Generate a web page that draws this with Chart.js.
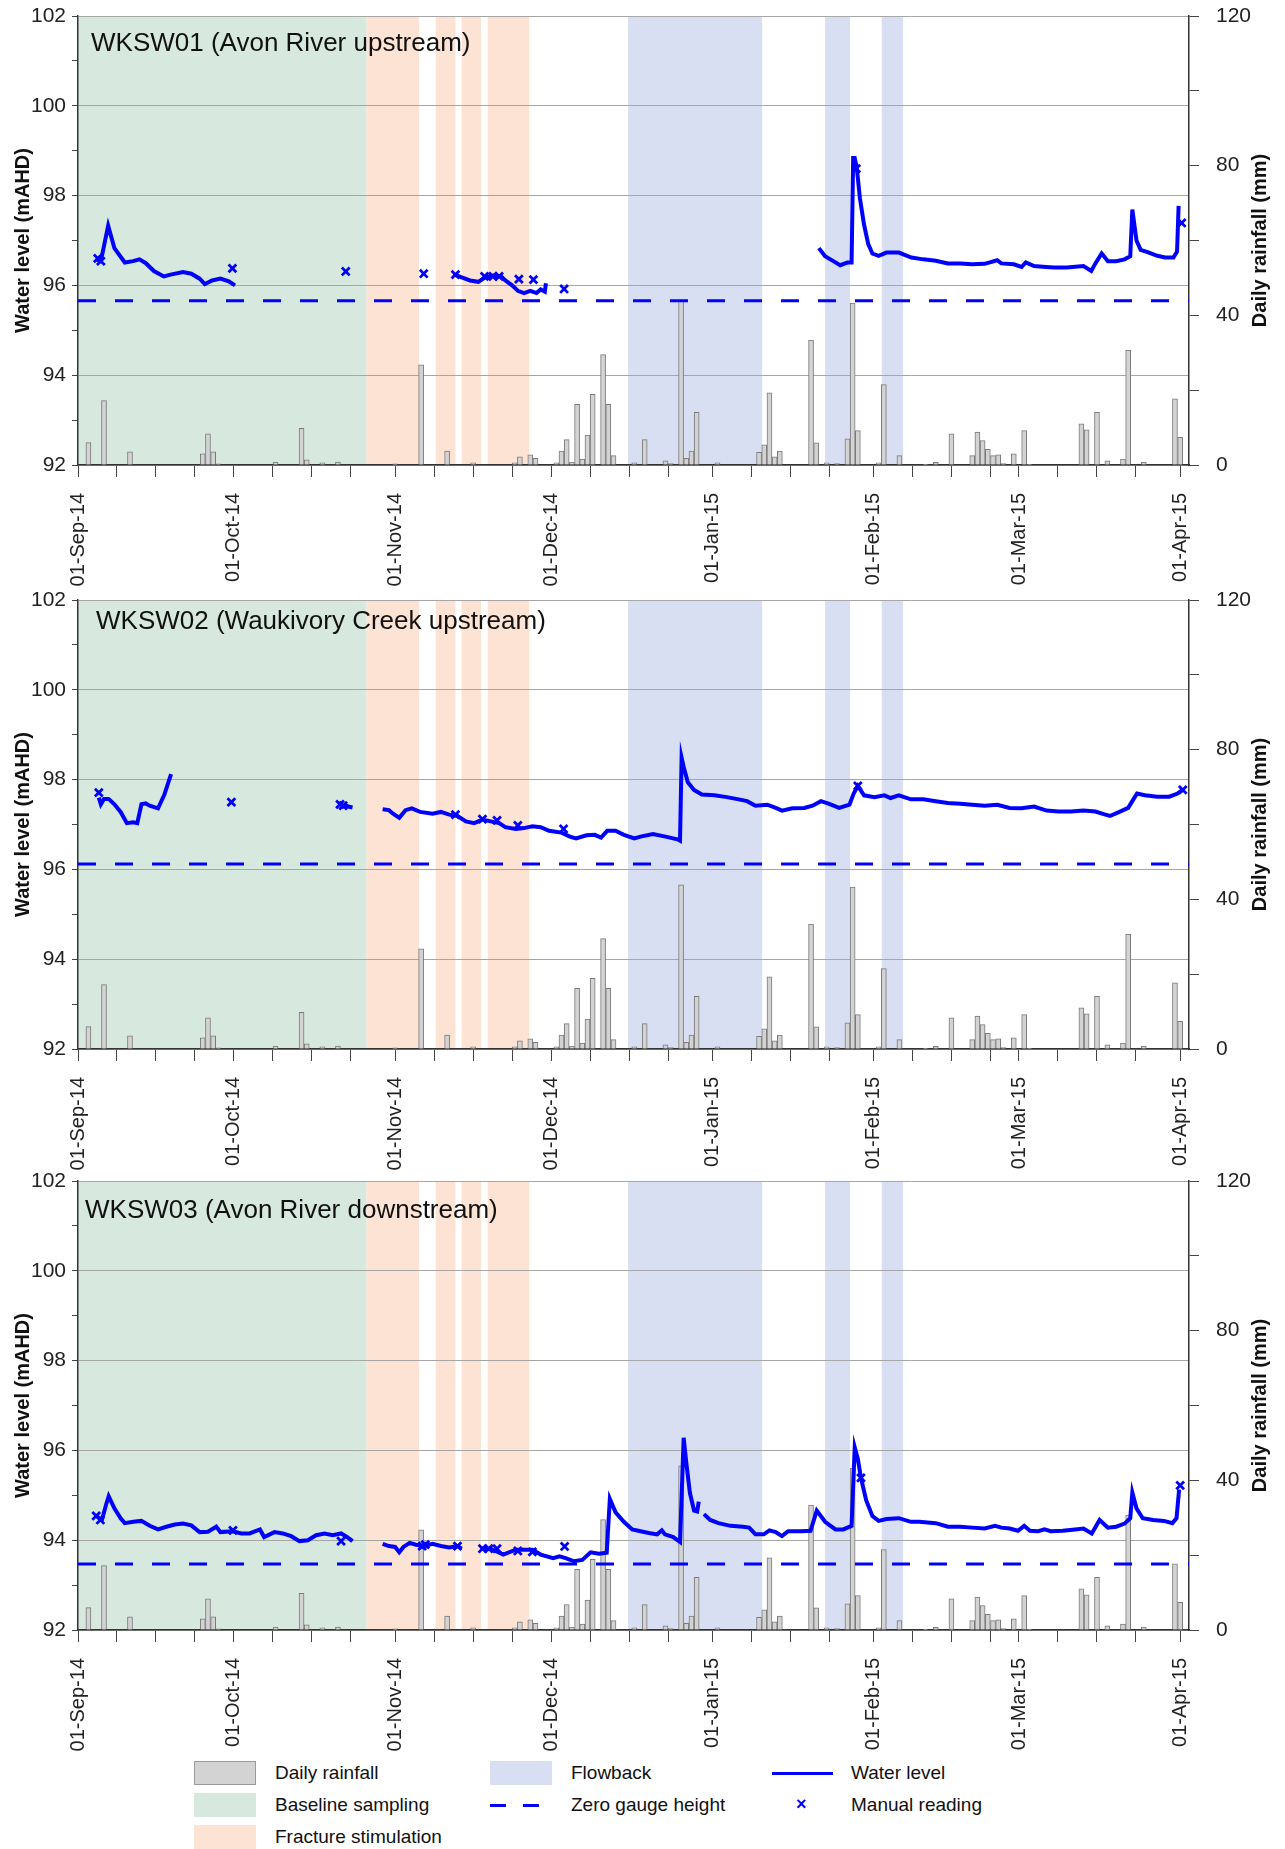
<!DOCTYPE html>
<html>
<head>
<meta charset="utf-8">
<script src="https://cdn.jsdelivr.net/npm/chart.js@4.4.0/dist/chart.umd.min.js"></script>
<style>
body { margin: 0; background: #fff; font-family: "Liberation Sans", Arial, sans-serif; }
#wrap { position: relative; width: 1285px; height: 1849px; overflow: hidden; }
canvas { position: absolute; left: 0; }
.lg { position: absolute; font-size: 19px; color: #111; line-height: 24px; white-space: nowrap; }
.sw { position: absolute; width: 62px; height: 24px; box-sizing: border-box; }
.dash { position: absolute; height: 3px; background: #0000ff; }
</style>
</head>
<body>
<div id="wrap">
  <canvas id="c1" width="1285" height="590" style="top:0px"></canvas>
  <canvas id="c2" width="1285" height="590" style="top:584px"></canvas>
  <canvas id="c3" width="1285" height="590" style="top:1165px"></canvas>

  <div class="sw" style="left:194px;top:1761px;background:#d3d3d3;border:1px solid #9a9a9a"></div>
  <div class="lg" style="left:275px;top:1761px">Daily rainfall</div>
  <div class="sw" style="left:194px;top:1793px;background:#d7e8df"></div>
  <div class="lg" style="left:275px;top:1793px">Baseline sampling</div>
  <div class="sw" style="left:194px;top:1825px;background:#fde3d3"></div>
  <div class="lg" style="left:275px;top:1825px">Fracture stimulation</div>

  <div class="sw" style="left:490px;top:1761px;background:#d8dff2"></div>
  <div class="lg" style="left:571px;top:1761px">Flowback</div>
  <div class="dash" style="left:490px;top:1804px;width:16px"></div>
  <div class="dash" style="left:523px;top:1804px;width:16px"></div>
  <div class="lg" style="left:571px;top:1793px">Zero gauge height</div>

  <div class="dash" style="left:772px;top:1772px;width:61px"></div>
  <div class="lg" style="left:851px;top:1761px">Water level</div>
  <div class="lg" style="left:796px;top:1792px;color:#0000ff;font-weight:bold;font-size:18px">×</div>
  <div class="lg" style="left:851px;top:1793px">Manual reading</div>
</div>

<script>
// days counted from 01-Sep-14
const monthDays = [0, 30, 61, 91, 122, 153, 181, 212];
const monthLabels = ['01-Sep-14', '01-Oct-14', '01-Nov-14', '01-Dec-14', '01-Jan-15', '01-Feb-15', '01-Mar-15', '01-Apr-15'];
const xMax = 213.7;

// activity periods (day ranges)
const baselineBand = [[0, 55.5]];
const fracBands = [[55.5, 65.6], [68.8, 72.6], [73.8, 77.5], [78.8, 86.8]];
const flowBands = [[105.8, 131.6], [143.7, 148.5], [154.6, 158.7]];

// daily rainfall (mm)
const rainDay = [2, 5, 10, 24, 25, 26, 27, 38, 43, 44, 47, 50, 61, 66, 71, 76, 84, 85, 87, 88, 92, 93, 94, 95, 96, 97, 98, 99, 101, 102, 103, 107, 109, 113, 114, 116, 117, 118, 119, 123, 131, 132, 133, 134, 135, 141, 142, 144, 146, 148, 149, 150, 154, 155, 158, 163, 165, 168, 172, 173, 174, 175, 176, 177, 178, 180, 182, 183, 193, 194, 196, 198, 201, 202, 205, 211, 212];
const rainMm = [6, 17.2, 3.5, 3, 8.3, 3.5, 0.3, 0.8, 9.8, 1.4, 0.6, 0.8, 0.3, 26.8, 3.7, 0.6, 0.6, 2.2, 2.7, 1.8, 0.6, 3.7, 6.8, 0.8, 16.2, 1.6, 8, 18.9, 29.5, 16.2, 2.5, 0.6, 6.8, 1.1, 0.4, 43.9, 1.8, 3.7, 14.1, 0.6, 3.4, 5.4, 19.3, 2.2, 3.7, 33.4, 5.9, 0.6, 0.4, 7, 43.3, 9.2, 0.6, 21.5, 2.5, 0.2, 0.7, 8.3, 2.5, 8.8, 6.5, 4.2, 2.5, 2.7, 0.4, 3, 9.2, 0.2, 11, 9.4, 14.1, 1.1, 1.6, 30.7, 0.8, 17.7, 7.4];

// WKSW01 water level (mAHD), null = logger gap
const w1Day = [3.5, 4.4, 5.8, 7, 9, 10.6, 11.8, 13, 14.6, 16.5, 17.8, 20.2, 21.8, 23.4, 24.4, 25.8, 27.4, 29, 30.2,
  50,
  72.2, 73.8, 75.4, 77, 78.2, 79.8, 81.4, 82.2, 83.5, 84.6, 85.8, 87, 88.2, 89, 89.8, 90,
  120,
  142.5, 143.7, 145.3, 146.6, 148, 148.8, 149.1, 149.4, 149.8, 150.4, 151.2, 152, 152.8, 154, 155.5, 157.9, 160.3, 162.6, 165, 167.3, 169.7, 172, 174.4, 176.8, 177.6, 180, 181.5, 182.3, 183.9, 186.2, 187.8, 190.2, 193.4, 194.9, 195.7, 196.9, 198.1, 199.7, 201.3, 202.4, 202.8, 203.6, 204.4, 206, 207.6, 209.1, 210.7, 211.4, 211.7];
const w1Lev = [96.58, 96.54, 97.33, 96.83, 96.51, 96.54, 96.58, 96.5, 96.32, 96.2, 96.24, 96.3, 96.26, 96.15, 96.03, 96.11, 96.15, 96.09, 96.0,
  null,
  96.25, 96.18, 96.11, 96.08, 96.17, 96.22, 96.2, 96.11, 96.0, 95.88, 95.83, 95.88, 95.83, 95.91, 95.86, 96.05,
  null,
  96.83, 96.65, 96.54, 96.45, 96.51, 96.51, 98.84, 98.84, 98.62, 97.94, 97.35, 96.92, 96.71, 96.66, 96.73, 96.73, 96.62, 96.58, 96.55, 96.49, 96.49, 96.47, 96.48, 96.56, 96.49, 96.47, 96.41, 96.51, 96.43, 96.41, 96.4, 96.4, 96.43, 96.32, 96.49, 96.71, 96.54, 96.54, 96.58, 96.65, 97.69, 97.0, 96.79, 96.73, 96.66, 96.62, 96.62, 96.75, 97.77];
const m1Day = [3.8, 4.4, 29.7, 51.5, 66.5, 72.6, 78.2, 79.8, 81, 84.8, 87.6, 93.5, 149.7, 212.3];
const m1Lev = [96.6, 96.54, 96.38, 96.31, 96.26, 96.24, 96.2, 96.2, 96.2, 96.14, 96.13, 95.92, 98.6, 97.39];
const zero1 = 95.66;

// WKSW02
const w2Day = [4, 4.4, 5.0, 5.9, 7, 8.2, 9.4, 10.6, 11.4, 12.2, 13, 13.8, 15.4, 16.6, 17.9,
  30,
  51.2, 52, 52.8,
  55,
  58.6, 59.8, 60.6, 61.8, 63, 64.2, 65.8, 68.2, 69.8, 71.4, 73, 74.6, 76.2, 77.8, 79.4, 81, 82.2, 84.2, 85.8, 87.4, 89, 90.6, 93, 94.6, 95.8, 97.8, 99.4, 100.6, 101.8, 103.4, 105, 107,
  108.2, 110.6, 113, 115.3, 115.8, 116.1, 116.5, 117.3, 118.5, 120, 122.4, 124.8, 127.1, 128.7, 130.3, 132.6, 134.2, 135.4, 137.4, 139.7, 141.3, 142.9, 144.5, 146.4, 148.4, 149.2, 150, 151.2, 153.2, 155.1, 156.3, 157.9, 160.2, 162.6, 165, 167.3, 169.7, 172, 174.4, 176.8, 179.2, 181.5, 183.9, 186.3, 188.6, 191, 193.4, 195.7, 197.3, 198.5, 200.1, 202, 202.8, 203.7, 205.2, 207.6, 209.9, 211.5, 212.5];
const w2Lev = [97.6, 97.45, 97.57, 97.57, 97.45, 97.28, 97.03, 97.05, 97.03, 97.45, 97.47, 97.42, 97.36, 97.66, 98.12,
  null,
  97.44, 97.4, 97.38,
  null,
  97.34, 97.32, 97.24, 97.15, 97.32, 97.36, 97.28, 97.24, 97.28, 97.22, 97.19, 97.07, 97.03, 97.11, 97.07, 97.03, 96.94, 96.9, 96.92, 96.96, 96.94, 96.86, 96.82, 96.73, 96.69, 96.76, 96.77, 96.71, 96.86, 96.86, 96.77, 96.69,
  96.73, 96.79, 96.73, 96.67, 96.64, 98.49, 98.28, 97.94, 97.77, 97.67, 97.65, 97.61, 97.56, 97.52, 97.42, 97.44, 97.37, 97.31, 97.36, 97.37, 97.42, 97.52, 97.46, 97.37, 97.44, 97.69, 97.86, 97.65, 97.61, 97.65, 97.59, 97.65, 97.56, 97.56, 97.52, 97.48, 97.46, 97.44, 97.42, 97.44, 97.37, 97.36, 97.4, 97.31, 97.29, 97.29, 97.31, 97.29, 97.23, 97.19, 97.27, 97.37, 97.52, 97.69, 97.65, 97.62, 97.62, 97.69, 97.77];
const m2Day = [4, 29.5, 50.4, 51, 72.6, 77.8, 80.6, 84.6, 93.4, 150, 212.5];
const m2Lev = [97.71, 97.5, 97.45, 97.42, 97.22, 97.12, 97.09, 96.98, 96.9, 97.86, 97.77];
const zero2 = 96.12;

// WKSW03
const w3Day = [3.5, 4.6, 5.4, 5.9, 7, 8.2, 9, 10.6, 12.2, 13.8, 15.4, 17, 18.6, 20.2, 21.8, 23.4, 25, 26.6, 27.4, 29.8, 31.4, 33, 35, 35.8, 37.8, 39.4, 41, 42.6, 44.2, 45.8, 47.4, 49, 50.6, 51.8, 52.8,
  55,
  58.6, 59.8, 61, 61.8, 62.6, 63.8, 65, 66.6, 68.2, 69.8, 71.4, 73, 73.8,
  75,
  77.4, 79.4, 81.8, 84.2, 87.4, 89, 91.4, 92.6, 93.8, 95.4, 97, 98.6, 100.2, 101.7, 102.3, 103.4, 105, 106.6, 108.2, 109.8, 111.4, 112.3, 112.9, 114.5, 115.8, 116.5, 117, 117.7, 118.5, 119.1, 119.4,
  120,
  120.4, 121.6, 123.2, 125.5, 127.9, 129.1, 130.3, 131.9, 133, 134.2, 135.4, 136.6, 139, 140.9, 142.1, 143.7, 145.7, 147.2, 148.8, 149.4, 150, 150.6, 151.6, 152.8, 154, 155.5, 157.9, 160.2, 161.8, 165, 167.3, 169.7, 172, 174.4, 176.4, 177.6, 179.2, 180.8, 182, 183.1, 184.7, 185.9, 187.1, 189.4, 191.8, 193.4, 195, 196.5, 198.1, 199.7, 201.3, 202.4, 202.8, 203.6, 204.8, 206.8, 208.9, 210.5, 211.3, 211.8];
const w3Lev = [94.54, 94.45, 94.79, 94.98, 94.71, 94.49, 94.38, 94.41, 94.43, 94.32, 94.24, 94.3, 94.35, 94.37, 94.33, 94.18, 94.19, 94.3, 94.18, 94.2, 94.15, 94.15, 94.24, 94.07, 94.18, 94.15, 94.09, 93.98, 94.0, 94.11, 94.15, 94.11, 94.15, 94.07, 93.98,
  null,
  93.92, 93.87, 93.85, 93.73, 93.85, 93.94, 93.9, 93.87, 93.92, 93.87, 93.84, 93.87, 93.81,
  null,
  93.82, 93.81, 93.68, 93.79, 93.79, 93.68, 93.6, 93.64, 93.6, 93.53, 93.56, 93.73, 93.7, 93.72, 94.92, 94.62, 94.41, 94.24, 94.2, 94.16, 94.13, 94.22, 94.13, 94.07, 93.96, 96.28, 95.73, 95.05, 94.66, 94.64, 94.86,
  null,
  94.58, 94.45, 94.38, 94.32, 94.3, 94.28, 94.13, 94.13, 94.22, 94.18, 94.09, 94.2, 94.2, 94.21, 94.66, 94.41, 94.24, 94.24, 94.32, 96.07, 95.81, 95.39, 94.89, 94.54, 94.43, 94.47, 94.49, 94.41, 94.41, 94.38, 94.3, 94.3, 94.28, 94.26, 94.32, 94.28, 94.26, 94.21, 94.32, 94.21, 94.2, 94.24, 94.2, 94.21, 94.24, 94.26, 94.15, 94.45, 94.28, 94.3, 94.37, 94.49, 95.06, 94.71, 94.49, 94.45, 94.43, 94.38, 94.49, 95.13];
const m3Day = [3.5, 4.3, 29.8, 50.6, 66.2, 66.8, 73, 77.8, 79, 80.6, 84.6, 87.4, 93.6, 150.6, 212];
const m3Lev = [94.54, 94.45, 94.22, 93.98, 93.87, 93.9, 93.87, 93.81, 93.81, 93.81, 93.76, 93.74, 93.86, 95.39, 95.22];
const zero3 = 93.47;

const FONT = '"Liberation Sans", Arial, sans-serif';
Chart.defaults.font.family = FONT;
Chart.defaults.color = '#222';

const bandsPlugin = {
    id: 'bands',
    beforeDraw(chart) {
        const ctx = chart.ctx;
        const a = chart.chartArea;
        const x = chart.scales.x;
        ctx.save();
        const fill = (ranges, color) => {
            ranges.forEach(r => {
                const x0 = x.getPixelForValue(r[0]);
                const x1 = x.getPixelForValue(r[1]);
                ctx.fillStyle = color;
                ctx.fillRect(x0, a.top, x1 - x0, a.bottom - a.top);
            });
        };
        fill(baselineBand, '#d7e8df');
        fill(fracBands, '#fde3d3');
        fill(flowBands, '#d8dff2');
        ctx.restore();
    },
    afterDraw(chart, args, opts) {
        const ctx = chart.ctx;
        const a = chart.chartArea;
        ctx.save();
        ctx.fillStyle = '#111';
        ctx.font = '26px ' + FONT;
        ctx.textAlign = 'left';
        ctx.textBaseline = 'alphabetic';
        ctx.fillText(opts.title, opts.tx, a.top + opts.dy);

        ctx.translate(1260, (a.top + a.bottom) / 2);
        ctx.rotate(-Math.PI / 2);
        ctx.font = 'bold 20px ' + FONT;
        ctx.textAlign = 'center';
        ctx.textBaseline = 'middle';
        ctx.fillText('Daily rainfall (mm)', 0, 0);
        ctx.restore();
    }
};

// keep the plot box fixed: no extra room for half tick labels
function noPad(scale) {
    scale.paddingTop = 0;
    scale.paddingBottom = 0;
    scale.paddingLeft = 0;
    scale.paddingRight = 0;
}

function makeChart(id, title, tx, dy, wDay, wLev, mDay, mLev, zero) {
    const ctx = document.getElementById(id).getContext('2d');
    const level = wDay.map((d, i) => ({x: d, y: wLev[i]}));
    const manual = mDay.map((d, i) => ({x: d, y: mLev[i]}));
    const rain = rainDay.map((d, i) => ({x: d, y: rainMm[i]}));

    return new Chart(ctx, {
        type: 'bar',
        data: {
            datasets: [{
                type: 'line',
                label: 'Manual reading',
                data: manual,
                showLine: false,
                pointStyle: 'crossRot',
                pointRadius: 5.5,
                pointBorderWidth: 2.8,
                pointBorderColor: '#0000ff',
                pointBackgroundColor: '#0000ff',
                yAxisID: 'y',
                order: 0
            }, {
                type: 'line',
                label: 'Water level',
                data: level,
                borderColor: '#0000ff',
                borderWidth: 4,
                pointRadius: 0,
                spanGaps: false,
                tension: 0,
                yAxisID: 'y',
                order: 1
            }, {
                type: 'line',
                label: 'Zero gauge height',
                data: [{x: 0, y: zero}, {x: xMax, y: zero}],
                borderColor: '#0000ff',
                borderWidth: 3,
                borderDash: [18, 19],
                pointRadius: 0,
                yAxisID: 'y',
                order: 2
            }, {
                type: 'bar',
                label: 'Daily rainfall',
                data: rain,
                backgroundColor: '#d3d3d3',
                borderColor: '#7a7a7a',
                borderWidth: 1,
                barThickness: 5,
                yAxisID: 'y2',
                order: 3
            }]
        },
        options: {
            responsive: false,
            animation: false,
            events: [],
            layout: { autoPadding: false, padding: { top: 16, left: 0, right: 0, bottom: 0 } },
            plugins: {
                legend: { display: false },
                tooltip: { enabled: false },
                bands: { title: title, tx: tx, dy: dy }
            },
            scales: {
                x: {
                    type: 'linear',
                    min: 0,
                    max: xMax,
                    offset: false,
                    afterBuildTicks: function(scale) {
                        const t = [];
                        monthDays.forEach((d, i) => {
                            t.push({ value: d });
                            if (i < monthDays.length - 1) {
                                [7.5, 15, 22.5].forEach(o => t.push({ value: d + o }));
                            }
                        });
                        scale.ticks = t;
                    },
                    afterFit: function(scale) { scale.height = 125; noPad(scale); },
                    grid: { drawOnChartArea: false, offset: false, tickLength: 12, tickColor: '#444' },
                    border: { color: '#333', width: 1.5 },
                    ticks: {
                        autoSkip: false,
                        maxRotation: 90,
                        minRotation: 90,
                        padding: 16,
                        font: { size: 20 },
                        color: '#222',
                        callback: function(value) {
                            const i = monthDays.indexOf(value);
                            return i >= 0 ? monthLabels[i] : '';
                        }
                    }
                },
                y: {
                    type: 'linear',
                    position: 'left',
                    min: 92,
                    max: 102,
                    afterFit: function(scale) { scale.width = 78; noPad(scale); },
                    grid: {
                        color: c => (c.tick && c.tick.value % 2 === 0) ? '#a6a6a6' : 'rgba(0,0,0,0)',
                        tickColor: '#444',
                        tickLength: 6
                    },
                    border: { color: '#333', width: 1.5 },
                    ticks: {
                        stepSize: 1,
                        padding: 6,
                        font: { size: 21 },
                        color: '#222',
                        callback: v => (v % 2 === 0 ? v : '')
                    },
                    title: {
                        display: true,
                        text: 'Water level (mAHD)',
                        font: { size: 20, weight: 'bold' },
                        color: '#111',
                        padding: { top: 11, bottom: 0 }
                    }
                },
                y2: {
                    type: 'linear',
                    position: 'right',
                    min: 0,
                    max: 120,
                    afterFit: function(scale) { scale.width = 96; noPad(scale); },
                    grid: { drawOnChartArea: false, tickColor: '#444', tickLength: 10 },
                    border: { color: '#333', width: 1.5 },
                    ticks: {
                        stepSize: 20,
                        padding: 17,
                        font: { size: 21 },
                        color: '#222',
                        callback: v => (v % 40 === 0 ? v : '')
                    }
                }
            }
        },
        plugins: [bandsPlugin]
    });
}

makeChart('c1', 'WKSW01 (Avon River upstream)', 91, 35, w1Day, w1Lev, m1Day, m1Lev, zero1);
makeChart('c2', 'WKSW02 (Waukivory Creek upstream)', 96, 29, w2Day, w2Lev, m2Day, m2Lev, zero2);
makeChart('c3', 'WKSW03 (Avon River downstream)', 85, 37, w3Day, w3Lev, m3Day, m3Lev, zero3);
</script>
</body>
</html>
